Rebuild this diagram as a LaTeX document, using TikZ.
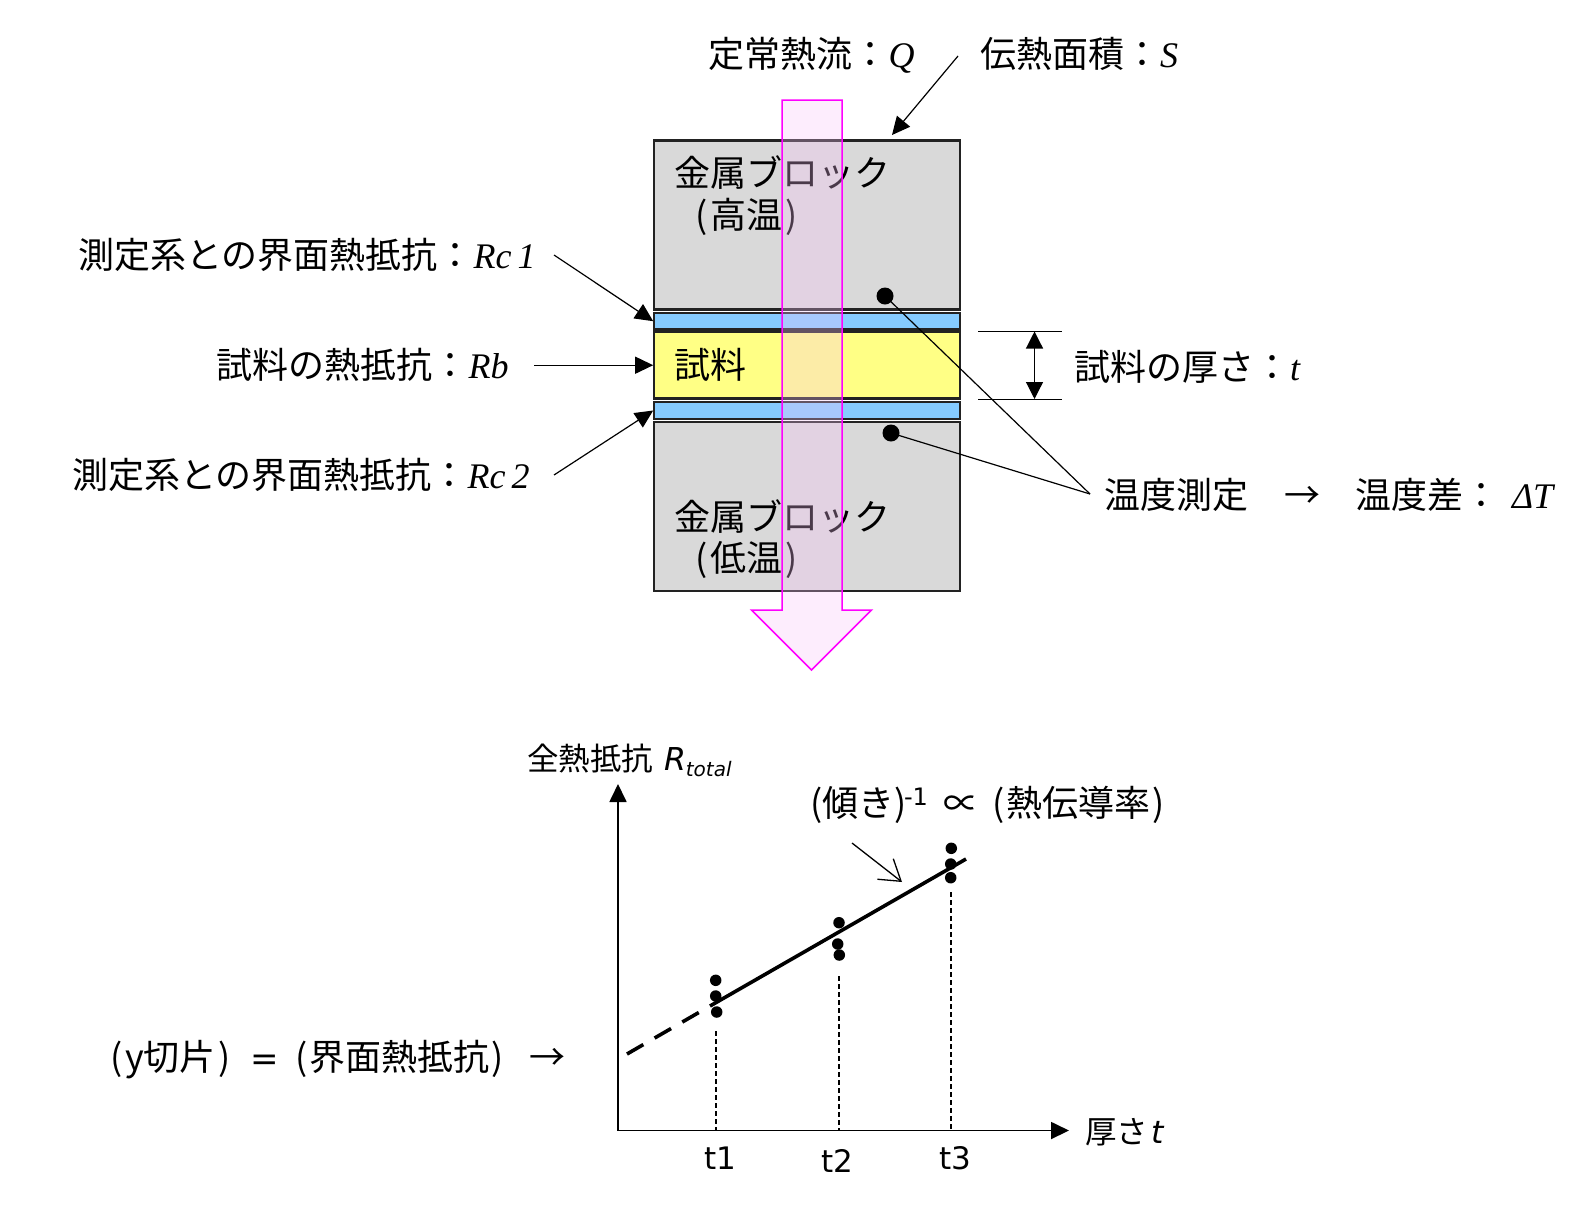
\documentclass[tikz,border=0pt]{standalone}
\usepackage{fontspec}
\usetikzlibrary{arrows.meta}
\newfontfamily\cjk{Noto Sans CJK JP}
\newfontfamily\lat{DejaVu Sans}
\newfontfamily\mth{Liberation Serif}
\newcommand{\mi}[1]{{\mth\itshape #1}}
\newcommand{\bigsz}{\fontsize{36}{42}\selectfont}
\newcommand{\smlsz}{\fontsize{31.5}{36}\selectfont}
\definecolor{blockgray}{HTML}{D9D9D9}
\definecolor{filmblue}{HTML}{85CBFF}
\definecolor{sampleyellow}{HTML}{FFFF85}
\definecolor{edge}{HTML}{222222}
\definecolor{flow}{HTML}{F8C2F8}
\definecolor{flowedge}{HTML}{FF00FF}
\tikzset{
  layer/.style={draw=edge,line width=2.2pt,rectangle,inner sep=0pt,minimum width=306pt},
  txt/.style={anchor=base west,inner sep=0pt,outer sep=0pt,font=\cjk\bigsz},
  txts/.style={anchor=base west,inner sep=0pt,outer sep=0pt,font=\cjk\smlsz},
  tick/.style={anchor=base west,inner sep=0pt,outer sep=0pt,font=\lat\fontsize{31}{36}\selectfont},
  dot/.style={circle,fill=black,inner sep=0pt,minimum size=#1},
  lead/.style={line width=1.2pt,-{Triangle[length=18pt,width=17pt]}},
  plain/.style={line width=1.2pt},
  axis/.style={line width=1.8pt,-{Triangle[length=18pt,width=17pt]}},
  drop/.style={line width=1.2pt,dash pattern=on 5pt off 3pt},
}
\begin{document}
\begin{tikzpicture}[x=1pt,y=-1pt]
\useasboundingbox (0,0) rectangle (1594,1208);
% layers
\node[layer,fill=blockgray,minimum height=169pt] (hot) at (807.3,225) {};
\node[layer,fill=filmblue,minimum height=16.5pt] (film1) at (807.3,321.2) {};
\node[layer,fill=sampleyellow,minimum height=66.5pt] (sample) at (807.3,365.2) {};
\node[layer,fill=filmblue,minimum height=17pt] (film2) at (807.3,410.5) {};
\node[layer,fill=blockgray,minimum height=169pt] (cold) at (807.3,506.5) {};
% block labels
\node[txt] (hotA) at (674,186) {金属ブロック};
\node[txt] (hotB) at (695,228) {(\hspace{3pt}高温\hspace{3pt})};
\node[txt] (sampleT) at (674,378) {試料};
\node[txt] (coldA) at (674,530) {金属ブロック};
\node[txt] (coldB) at (695,571) {(\hspace{3pt}低温\hspace{3pt})};
% heat flow arrow
\filldraw[fill=flow,fill opacity=.3,draw=flowedge,line width=1.5pt,line join=miter]
  (782,100) -- (842,100) -- (842,610) -- (871.5,610) -- (811.5,670) -- (751.5,610) -- (782,610) -- cycle;
% dots
\node[dot=17pt] (dotA) at (885,296) {};
\node[dot=17pt] (dotB) at (891,433) {};
% top labels
\node[txt] (qLabel) at (708.5,67) {定常熱流：\mi{Q}};
\node[txt] (sLabel) at (980,67) {伝熱面積：\mi{S}};
\coordinate (sFrom) at (958,56);
\coordinate (sTo) at (892,135);
\draw[lead] (sFrom) -- (sTo);
% left labels
\node[txt] (rc1) at (78,268) {測定系との界面熱抵抗：\mi{Rc\,1}};
\node[txt] (rb) at (216.5,378) {試料の熱抵抗：\mi{Rb}};
\node[txt] (rc2) at (72,488) {測定系との界面熱抵抗：\mi{Rc\,2}};
\coordinate (rc1From) at (554,255);
\coordinate (rbFrom) at (534,365.2);
\coordinate (rc2From) at (554,475);
\draw[lead] (rc1From) -- (film1.west);
\draw[lead] (rbFrom) -- (sample.west);
\draw[lead] (rc2From) -- (film2.west);
% thickness
\coordinate (tTopL) at (978,331.5);
\coordinate (tTopR) at (1062,331.5);
\coordinate (tBotL) at (978,399);
\coordinate (tBotR) at (1062,399);
\coordinate (tTop) at (1034.5,331.5);
\coordinate (tBot) at (1034.5,399);
\draw[plain,line width=.8pt] (tTopL) -- (tTopR);
\draw[plain,line width=.8pt] (tBotL) -- (tBotR);
\draw[line width=1.2pt,{Triangle[length=17pt,width=17pt]}-{Triangle[length=17pt,width=17pt]}] (tTop) -- (tBot);
\node[txt] (tLabel) at (1074,380) {試料の厚さ：\mi{t}};
% temperature
\coordinate (tempJoin) at (1090,494);
\draw[plain] (dotA.center) -- (tempJoin);
\draw[plain] (dotB.center) -- (tempJoin);
\node[txt] (temp) at (1104,508) {温度測定};
\node[txt] (tempArrow) at (1284,508) {→};
\node[txt] (tempDiff) at (1355,508) {温度差：};
\node[txt] (deltaT) at (1512,508) {\mi{ΔT}};
% graph
\coordinate (orig) at (618,1130.5);
\coordinate (yEnd) at (618,784);
\coordinate (xEnd) at (1069,1130.5);
\draw[axis] (orig) -- (yEnd);
\draw[axis] (orig) -- (xEnd);
\node[txts] (yLabel) at (527,770) {全熱抵抗};
\node[txts,font=\lat\itshape\smlsz] (yVar) at (664,770) {R\raisebox{-6pt}{\fontsize{20}{24}\selectfont total}};
\node[txts] (xLabel) at (1085,1143) {厚さ};
\node[txts,font=\lat\itshape\smlsz] (xVar) at (1151,1143) {t};
\node[txt] (slopeA) at (810,816) {(傾き)};
\node[tick,font=\lat\fontsize{24}{28}\selectfont] (slopeB) at (904,805) {-1};
\node[txt] (slopeC) at (943,816) {∝};
\node[txt] (slopeD) at (992,816) {(\hspace{2pt}熱伝導率\hspace{2pt})};
\node[txt] (interA) at (110,1070) {(\hspace{3pt}y切片\hspace{3pt})};
\node[txt,font=\lat\fontsize{34}{40}\selectfont] (interB) at (250,1070) {=};
\node[txt] (interC) at (295,1070) {(\hspace{2pt}界面熱抵抗\hspace{2pt})};
\node[txt] (interD) at (529,1070) {→};
\node[tick] (t1) at (704.5,1169) {t1};
\node[tick] (t2) at (821,1172) {t2};
\node[tick] (t3) at (939,1169) {t3};
% dropped lines
\coordinate (d1a) at (716,1031); \coordinate (d1b) at (716,1130);
\coordinate (d2a) at (839,976);  \coordinate (d2b) at (839,1130);
\coordinate (d3a) at (951,892);  \coordinate (d3b) at (951,1130);
\draw[drop] (d1a) -- (d1b);
\draw[drop] (d2a) -- (d2b);
\draw[drop] (d3a) -- (d3b);
% fit line
\coordinate (fitA) at (710,1006);
\coordinate (fitB) at (966,859);
\coordinate (fitC) at (627,1054);
\draw[line width=3.6pt] (fitA) -- (fitB);
\draw[line width=3.6pt,dash pattern=on 19pt off 13pt,dash phase=19pt] (fitA) -- (fitC);
% data points
\foreach \n/\x/\y in {p1/715.7/980.3,p2/715.7/996,p3/716.7/1012,p4/839/922.7,p5/837.7/944,p6/839.3/955,p7/951.3/848.3,p8/950.7/864,p9/950.7/877.7}
  \node[dot=11.5pt] (\n) at (\x,\y) {};
% slope arrow
\coordinate (slopeFrom) at (852,843);
\coordinate (slopeTo) at (902,882);
\draw[line width=1.3pt,-{Straight Barb[length=20pt,width=26pt]}] (slopeFrom) -- (slopeTo);
\end{tikzpicture}
\end{document}
